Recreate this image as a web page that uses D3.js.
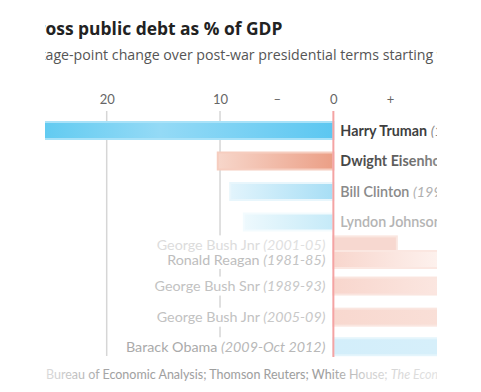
<!DOCTYPE html>
<html><head><meta charset="utf-8">
<script src="https://cdn.jsdelivr.net/npm/d3@7"></script>
<style>body{margin:0;background:#fff}svg{display:block}</style>
</head><body>
<script>
// ---- data ----
const presidents = ["Harry Truman","Dwight Eisenhower","Bill Clinton","Lyndon Johnson","George Bush Jnr","Ronald Reagan","George Bush Snr","George Bush Jnr","Barack Obama"];
const terms = ["(1945-53)","(1953-61)","(1993-2001)","(1963-69)","(2001-05)","(1981-85)","(1989-93)","(2005-09)","(2009-Oct 2012)"];
const parties = ["D","R","D","D","R","R","R","R","D"];
const changes = [-44, -10.2, -9.1, -7.9, 5.6, 10.7, 13.5, 20.1, 28.5];
const ranks = [0, 1, 2, 3, 3.75, 4.23, 5.1, 6.12, 7.09];   // order position (mid re-sort)
const tickValues = [-20, -10, -5, 0, 5];
const tickLabels = ["20", "10", "–", "0", "+"];
const gridValues = [-20, -10];
const title = "Gross public debt as % of GDP";
const subtitle = "Percentage-point change over post-war presidential terms starting with Truman";
const source = ["Sources: ", "Bureau of Economic Analysis; Thomson Reuters; White House; ", "The Economist"];

// ---- styles (not data) ----
const W = 481, H = 392;
const nameFill = ["#3f3f3f","url(#lab1)","#8a8a8a","#b4b4b4","#dcdcdc","#bdbdbd","#c2c2c2","#c2c2c2","#aaaaaa"];
const termFill = ["#8a8a8a","#8a8a8a","#b0b0b0","#c8c8c8","#e0e0e0","#c4c4c4","#c8c8c8","#c8c8c8","#b8b8b8"];
const nameWeight = [700,700,600,600,400,400,400,400,400];
const barStops = [
  [["0%","#62cbf1"],["40%","#94daf6"],["100%","#5cc7f1"]],
  [["0%","#f7d6ca"],["100%","#eb9f86"]],
  [["0%","#e2f4fc"],["100%","#a7def5"]],
  [["0%","#eef9fd"],["100%","#c5eaf8"]],
  [["0%","#f7d8d0"],["100%","#f7d8d0"]],
  [["0%","#f8d6cd"],["100%","#fdf1ed"]],
  [["0%","#f8d6cd"],["100%","#fbe6e0"]],
  [["0%","#f8d8cf"],["100%","#f9dfd7"]],
  [["0%","#d3eefa"],["100%","#d6effa"]]
];
const barEdge = ["#a9e2f8","#f6cdbf","#e8f6fc","#f3fbfe","#fae6e0","#fbe7e1","#fae5df","#fae6e0","#e4f5fc"];

const svg = d3.select("body").append("svg").attr("width", W).attr("height", H);
const defs = svg.append("defs");
defs.append("clipPath").attr("id","clip").append("rect").attr("x",45).attr("y",0).attr("width",392).attr("height",H);
const g = svg.append("g").attr("clip-path","url(#clip)");

const x = d3.scaleLinear().domain([-20, 10]).range([106.7, 446.7]);
const y = d3.scaleLinear().domain([0, 1]).range([121, 151.5]);
const barH = 19;
const font = "Lato, 'Open Sans', sans-serif";
const headFont = "'Open Sans', Lato, sans-serif";

// fit a text so that a substring [a,b) spans exactly the width w, with its start at x0
function fitText(sel, a, b, w, x0) {
  const fs = +sel.attr("font-size");
  let sw = sel.node().getSubStringLength(a, b - a);
  sel.attr("font-size", fs * w / sw);
  const pre = a > 0 ? sel.node().getSubStringLength(0, a) : 0;
  sel.attr("x", x0 - pre);
}

// title & subtitle (the crop cuts them at the left)
const t = g.append("text").attr("y", 34.5).attr("font-family", headFont).attr("font-weight", 700)
  .attr("font-size", 17).attr("fill", "#222").text(title);
fitText(t, title.indexOf("oss"), title.length, 237, 45.5);
const s = g.append("text").attr("y", 59.5).attr("font-family", headFont).attr("font-size", 13)
  .attr("fill", "#555").text(subtitle);
fitText(s, subtitle.indexOf("age-point"), subtitle.indexOf("starting") + 8, 388, 45.5);

// axis
const axis = d3.axisTop(x).tickValues(tickValues).tickSize(0).tickPadding(0)
  .tickFormat((d, i) => tickLabels[i]);
const ax = g.append("g").attr("transform", "translate(0,104)").call(axis);
ax.select(".domain").remove();
ax.selectAll("text").attr("font-family", font).attr("font-size", 13).attr("fill", "#666");

// gridlines
g.append("g").selectAll("line").data(gridValues).join("line")
  .attr("x1", d => x(d)).attr("x2", d => x(d)).attr("y1", 111).attr("y2", 356)
  .attr("stroke", "#d6d6d6").attr("stroke-width", 1.5);

// gradients
const rows = presidents.map((p, i) => ({i, p, term: terms[i], party: parties[i], v: changes[i], r: ranks[i]}));
rows.forEach(d => {
  const grad = defs.append("linearGradient").attr("id", "g" + d.i)
    .attr("gradientUnits", "userSpaceOnUse")
    .attr("x1", Math.max(45, Math.min(x(0), x(d.v)))).attr("x2", Math.min(437, Math.max(x(0), x(d.v))))
    .attr("y1", 0).attr("y2", 0);
  barStops[d.i].forEach(s => grad.append("stop").attr("offset", s[0]).attr("stop-color", s[1]));
});
const lg = defs.append("linearGradient").attr("id", "lab1").attr("gradientUnits", "userSpaceOnUse")
  .attr("x1", 340).attr("x2", 437).attr("y1", 0).attr("y2", 0);
[["0%","#444"],["45%","#555"],["100%","#888"]].forEach(s => lg.append("stop").attr("offset", s[0]).attr("stop-color", s[1]));

const labels = g.append("g");
const bars = g.append("g");
rows.forEach(d => {
  bars.append("rect")
    .attr("x", Math.min(x(0), x(d.v))).attr("width", Math.abs(x(d.v) - x(0)))
    .attr("y", y(d.r) + 1).attr("height", barH - 2)
    .attr("fill", `url(#g${d.i})`).attr("stroke", barEdge[d.i]).attr("stroke-width", 2);
});
rows.forEach(d => {
  const neg = d.v < 0;
  const tx = labels.append("text")
    .attr("x", neg ? x(0) + 7 : x(0) - 8).attr("y", y(d.r) + barH / 2)
    .attr("dy", "0.35em").attr("text-anchor", neg ? "start" : "end")
    .attr("font-family", font).attr("font-size", 14.3);
  tx.append("tspan").attr("font-weight", nameWeight[d.i]).attr("fill", nameFill[d.i]).text(d.p + " ");
  tx.append("tspan").attr("font-style", "italic").attr("fill", termFill[d.i]).text(d.term);
  if (!neg) {
    const bb = tx.node().getBBox();
    labels.insert("rect", "text").attr("x", bb.x - 2).attr("y", y(d.r)).attr("width", bb.width + 4)
      .attr("height", barH).attr("fill", "#fff");
  }
});

// zero line
g.append("line").attr("x1", x(0)).attr("x2", x(0)).attr("y1", 111).attr("y2", 357)
  .attr("stroke", "#f4a3a3").attr("stroke-width", 2);

// source
const sg = defs.append("linearGradient").attr("id", "src").attr("gradientUnits", "userSpaceOnUse")
  .attr("x1", 45).attr("x2", 437).attr("y1", 0).attr("y2", 0);
[["0%","#dcdcdc"],["17%","#a0a0a0"],["72%","#9c9c9c"],["82%","#d0d0d0"],["100%","#e2e2e2"]]
  .forEach(s => sg.append("stop").attr("offset", s[0]).attr("stop-color", s[1]));
const src = g.append("text").attr("y", 379).attr("font-family", font).attr("font-size", 12.5)
  .attr("fill", "url(#src)");
src.append("tspan").text(source[0]);
src.append("tspan").text(source[1]);
src.append("tspan").attr("font-style", "italic").text(source[2]);
const pre = src.node().getSubStringLength(0, source[0].length);
src.attr("x", 46 - pre);
</script>
</body></html>
